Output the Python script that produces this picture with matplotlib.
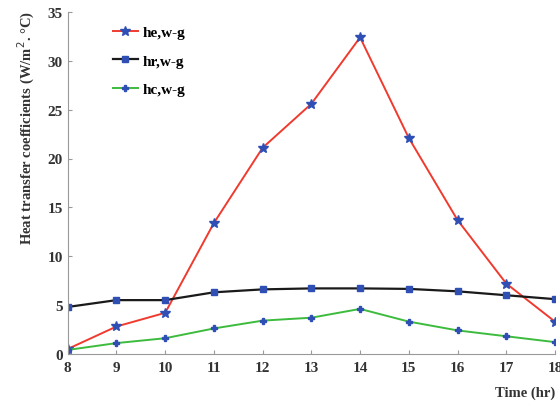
import matplotlib
matplotlib.use('Agg')
import matplotlib.pyplot as plt

# Dati
hours = [8, 9, 10, 11, 12, 13, 14, 15, 16, 17, 18]
he_wg = [0.5, 2.8, 4.2, 13.4, 21.1, 25.6, 32.4, 22.1, 13.7, 7.2, 3.3]
hr_wg = [4.8, 5.5, 5.5, 6.3, 6.6, 6.7, 6.7, 6.65, 6.4, 6.0, 5.6]
hc_wg = [0.4, 1.1, 1.6, 2.6, 3.4, 3.7, 4.6, 3.3, 2.4, 1.8, 1.2]

plt.rcParams['font.family'] = ['Liberation Serif', 'DejaVu Serif']

fig = plt.figure(figsize=(5.6, 4.06), dpi=100)
ax = fig.add_axes([0.121, 0.126, 0.870, 0.842])

blue = '#2f4fb5'
ax.plot(hours, he_wg, color='#f03a2e', lw=1.4, marker='*', ms=7,
        mfc=blue, mec=blue, label='he,w-g')
ax.plot(hours, hr_wg, color='#1a1a1a', lw=1.6, marker='s', ms=5,
        mfc=blue, mec=blue, label='hr,w-g')
ax.plot(hours, hc_wg, color='#3dbb3d', lw=1.4, marker='P', ms=5,
        mfc=blue, mec=blue, label='hc,w-g')

ax.set_xlim(8, 18)
ax.set_ylim(0, 35)
ax.set_xticks(hours)
ax.set_yticks(range(0, 36, 5))

for s in ['top', 'right']:
    ax.spines[s].set_visible(False)
for s in ['left', 'bottom']:
    ax.spines[s].set_color('#999999')
ax.tick_params(direction='in', length=3, color='#999999', labelsize=11,
               labelcolor='#333333')
ax.tick_params(axis='x', pad=5)
for t in ax.get_xticklabels() + ax.get_yticklabels():
    t.set_fontweight('bold')

ax.set_ylabel('Heat transfer coefficients (W/m$^2$. °C)', fontsize=10.5,
              fontweight='bold', color='#333333')
ax.yaxis.set_label_coords(-0.064, 0.665)
ax.text(1.0, -0.111, 'Time (hr)', transform=ax.transAxes, ha='right',
        va='center', fontsize=10.5, fontweight='bold', color='#333333')

ax.legend(loc='upper left', bbox_to_anchor=(0.065, 1.0), frameon=False,
          handlelength=1.6, handletextpad=0.3, labelspacing=0.95,
          prop={'weight': 'bold', 'size': 11})

fig.savefig('out.png', dpi=100)
